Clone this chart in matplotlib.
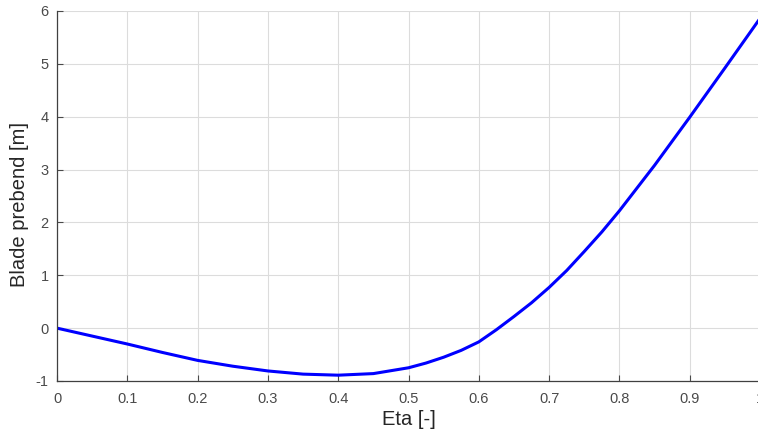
import matplotlib
matplotlib.use("Agg")
import matplotlib.pyplot as plt

# Data
eta = [0.00, 0.05, 0.10, 0.15, 0.20, 0.25, 0.30, 0.35, 0.40, 0.45, 0.50,
       0.525, 0.55, 0.575, 0.60, 0.625, 0.65, 0.675, 0.70, 0.725, 0.75, 0.775,
       0.80, 0.85, 0.90, 0.95, 1.00]
prebend = [0.00, -0.15, -0.30, -0.46, -0.61, -0.72, -0.81, -0.87, -0.89, -0.86, -0.75,
           -0.66, -0.55, -0.42, -0.26, -0.03, 0.22, 0.48, 0.77, 1.09, 1.45, 1.82,
           2.22, 3.08, 3.99, 4.92, 5.86]
xticks = [0, 0.1, 0.2, 0.3, 0.4, 0.5, 0.6, 0.7, 0.8, 0.9, 1.0]
xticklabels = ["0", "0.1", "0.2", "0.3", "0.4", "0.5", "0.6", "0.7", "0.8", "0.9", "1"]
yticks = [-1, 0, 1, 2, 3, 4, 5, 6]
xlabel = "Eta [-]"
ylabel = "Blade prebend [m]"

plt.rcParams['font.family'] = ['Liberation Sans', 'DejaVu Sans']
plt.rcParams['axes.unicode_minus'] = False

fig = plt.figure(figsize=(7.58, 4.37), dpi=100)
ax = fig.add_axes([57/758, 1 - 381/437, 703/758, 370/437])

ax.plot(eta, prebend, color=(0, 0, 1), linewidth=2.2, solid_joinstyle='round',
        solid_capstyle='round')

ax.set_xlim(0, 1)
ax.set_ylim(-1, 6)
ax.set_xticks(xticks)
ax.set_xticklabels(xticklabels)
ax.set_yticks(yticks)

ax.grid(True, color='#dcdcdc', linewidth=0.8)
ax.set_axisbelow(True)

for s in ['top', 'right']:
    ax.spines[s].set_visible(False)
for s in ['left', 'bottom']:
    ax.spines[s].set_color('#404040')
    ax.spines[s].set_linewidth(0.9)

ax.tick_params(direction='in', length=4, width=0.8, colors='#4a4a4a',
               labelsize=10.5, pad=6, top=False, right=False)
ax.tick_params(axis='x', pad=8)

ax.set_xlabel(xlabel, fontsize=14.5, color='#262626', va='center')
ax.set_ylabel(ylabel, fontsize=14.5, color='#262626', va='center')
ax.xaxis.set_label_coords(0.5, -0.103)
ax.yaxis.set_label_coords(-0.053, 0.478)

fig.savefig("out.png", dpi=100)
